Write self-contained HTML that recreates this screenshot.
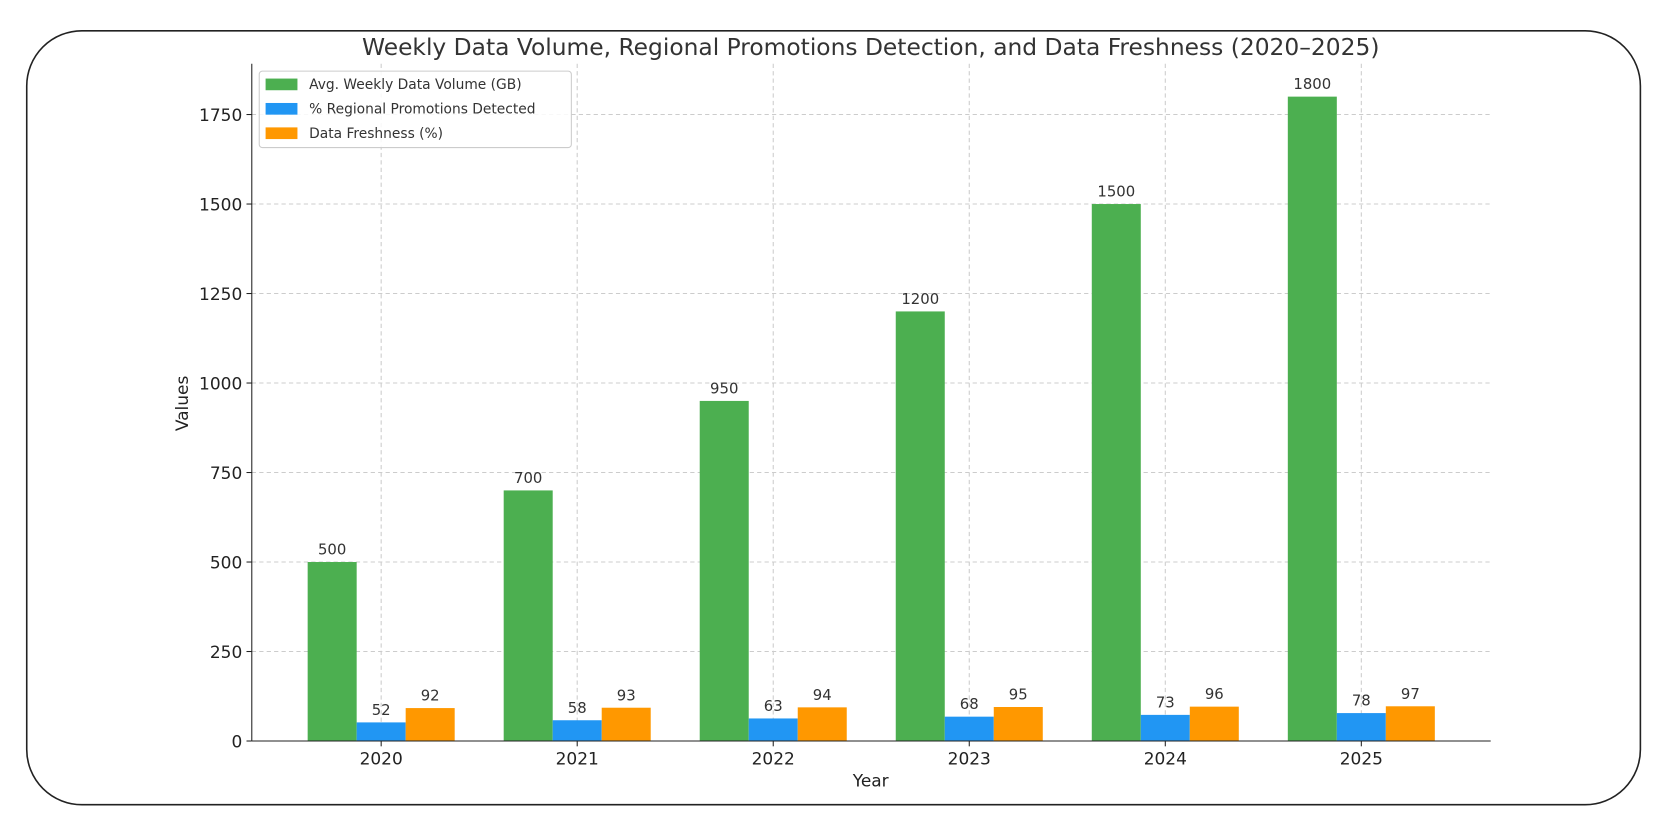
<!DOCTYPE html>
<html><head><meta charset="utf-8"><style>
body{margin:0;background:#fff;}
svg{display:block;font-family:"DejaVu Sans","Liberation Sans",sans-serif;}
</style></head><body>
<svg width="1665" height="827" viewBox="0 0 1568 779" id="chart">
<rect x="25" y="29" width="1520" height="729" rx="52" ry="52" fill="#fff" stroke="#222" stroke-width="1.5"/>
<text x="820" y="52" text-anchor="middle" font-size="22" fill="#333">Weekly Data Volume, Regional Promotions Detection, and Data Freshness (2020–2025)</text>
<g id="grid"></g><g id="bars"></g><g id="axes"></g>
<text x="820" y="741" text-anchor="middle" font-size="16" fill="#222">Year</text>
<text transform="translate(177,380) rotate(-90)" text-anchor="middle" font-size="16" fill="#222">Values</text>
<g>
<rect x="244" y="67" width="294" height="72" fill="#fff" fill-opacity="0.85" stroke="#ccc" rx="3"/>
<rect x="250" y="74" width="30" height="11" fill="#4caf50"/><text x="291" y="84" font-size="13" fill="#333">Avg. Weekly Data Volume (GB)</text>
<rect x="250" y="97" width="30" height="11" fill="#2196f3"/><text x="291" y="107" font-size="13" fill="#333">% Regional Promotions Detected</text>
<rect x="250" y="120" width="30" height="11" fill="#ff9800"/><text x="291" y="130" font-size="13" fill="#333">Data Freshness (%)</text>
</g>
</svg>
<script>
const years=["2020","2021","2022","2023","2024","2025"];
const volume=[500,700,950,1200,1500,1800];
const promotions=[52,58,63,68,73,78];
const freshness=[92,93,94,95,96,97];
const yTicks=[0,250,500,750,1000,1250,1500,1750];
const NS="http://www.w3.org/2000/svg";
const X0=237,X1=1404,Y0=698,YT=60,XMIN=-0.66,XMAX=5.66,YMAX=1892;
const xs=v=>X0+(v-XMIN)/(XMAX-XMIN)*(X1-X0);
const ys=v=>Y0-v/YMAX*(Y0-YT);
function mk(tag,at,parent,txt){const e=document.createElementNS(NS,tag);for(const k in at)e.setAttribute(k,at[k]);if(txt!==undefined)e.textContent=txt;document.getElementById(parent).appendChild(e);return e;}
yTicks.forEach(t=>{const y=ys(t);
const g=mk('line',{x1:X0,x2:X1,y1:y,y2:y,stroke:'#ccc','stroke-dasharray':'4,3','stroke-width':1},'grid');


const tk=mk('line',{x1:X0-5,x2:X0,y1:y,y2:y,stroke:'#222'},'axes');


const l=mk('text',{x:X0-9,y:y+6,'text-anchor':'end','font-size':16,fill:'#222'},'axes',String(t));

});
const bw=0.25;
const series=[[volume,'#4caf50',-1,'volume'],[promotions,'#2196f3',0,'promotions'],[freshness,'#ff9800',1,'freshness']];
years.forEach((yr,i)=>{const cx=xs(i);
const g=mk('line',{x1:cx,x2:cx,y1:YT,y2:Y0,stroke:'#ccc','stroke-dasharray':'4,3'},'grid');


const tk=mk('line',{x1:cx,x2:cx,y1:Y0,y2:Y0+5,stroke:'#222'},'axes');


const l=mk('text',{x:cx,y:Y0+22,'text-anchor':'middle','font-size':16,fill:'#222'},'axes',yr);


series.forEach(([arr,c,o,n])=>{const x1=xs(i+o*bw-bw/2),x2=xs(i+o*bw+bw/2),y=ys(arr[i]);
const r=mk('rect',{x:x1,y:y,width:x2-x1,height:Y0-y,fill:c},'bars');


const t=mk('text',{x:(x1+x2)/2,y:y-7,'text-anchor':'middle','font-size':14,fill:'#333'},'bars',String(arr[i]));

});});
const a1=mk('line',{x1:X0,x2:X0,y1:YT,y2:Y0,stroke:'#222'},'axes');


const a2=mk('line',{x1:X0,x2:X1,y1:Y0,y2:Y0,stroke:'#222'},'axes');


</script>
</body></html>
